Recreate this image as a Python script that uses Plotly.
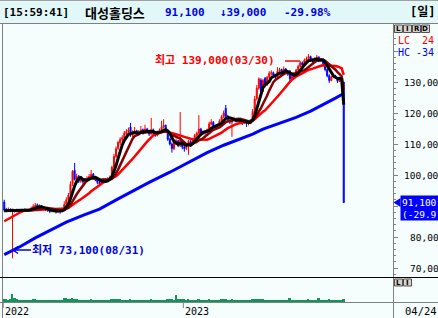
import plotly.graph_objects as go
import pandas as pd

# ---------------- data (thousand KRW) ----------------
close = [88.7, 88.5, 88.9, 88.4, 88.6, 88.4, 88.6, 88.2, 88.7, 88.5,
         88.9, 88.6, 88.8, 89.3, 89.8, 90.2, 89.6, 89.9, 89.4, 89.0,
         88.7, 88.5, 88.3, 88.6, 88.4, 88.2, 88.5, 88.3, 88.8, 90.5,
         92.0, 93.5, 97.0, 101.2, 98.6, 99.5, 98.0, 98.6, 97.8, 98.3,
         99.0, 99.5, 100.2, 99.1, 98.4, 97.6, 97.2, 98.0, 98.5, 98.2,
         98.8, 99.3, 102.5, 106.0, 108.5, 110.5, 111.5, 112.0, 113.5, 114.0,
         114.5, 112.8, 113.5, 114.2, 113.0, 113.8, 114.5, 113.6, 114.8, 113.9,
         113.2, 114.6, 113.5, 112.8, 113.6, 114.2, 115.5, 116.0, 114.0, 111.5,
         110.0, 108.5, 110.5, 111.0, 109.5, 111.2, 109.0, 108.5, 109.5, 110.8,
         110.2, 111.5, 112.8, 113.5, 114.8, 113.2, 114.0, 113.6, 114.5, 116.5,
         117.0, 115.8, 115.2, 116.0, 117.5, 118.8, 120.0, 119.0, 117.6, 117.0,
         117.8, 118.2, 117.5, 118.0, 117.2, 116.8, 117.4, 116.5, 116.8, 117.5,
         120.5, 124.5, 128.0, 131.0, 127.0, 130.5, 129.0, 131.5, 132.8, 133.0,
         132.2, 131.5, 133.5, 134.0, 133.2, 134.2, 133.0, 132.5, 131.0, 131.8,
         132.5, 133.8, 135.0, 136.2, 135.5, 137.0, 137.5, 138.2, 137.0, 136.5,
         137.5, 138.0, 136.8, 137.2, 136.0, 134.0, 132.0, 130.5, 131.5, 132.0,
         131.5, 130.2, 130.8, 130.1, 91.1]
open_ = [91.3, 88.8, 88.4, 88.9, 88.2, 88.6, 88.3, 88.7, 88.2, 88.8,
         88.4, 88.9, 88.5, 88.8, 89.3, 89.7, 90.4, 89.5, 90.0, 89.4,
         89.0, 88.8, 88.6, 88.2, 88.7, 88.5, 88.1, 88.5, 88.3, 88.9,
         90.6, 92.0, 93.6, 97.2, 101.5, 98.4, 99.6, 98.0, 98.7, 97.8,
         98.3, 99.0, 99.4, 100.3, 99.2, 98.5, 97.6, 97.2, 98.0, 98.6,
         98.2, 98.8, 99.4, 102.6, 106.0, 108.6, 110.4, 111.5, 112.0, 113.4,
         114.0, 115.5, 112.8, 113.5, 114.3, 113.0, 113.8, 114.6, 113.6, 114.8,
         113.9, 113.2, 114.6, 113.5, 112.8, 113.6, 114.2, 115.5, 116.0, 114.0,
         111.6, 110.0, 108.5, 110.4, 111.0, 109.6, 111.0, 109.0, 108.6, 109.4,
         110.8, 110.2, 111.5, 112.8, 113.5, 114.8, 113.2, 114.0, 113.6, 114.5,
         116.5, 117.0, 115.8, 115.2, 116.0, 117.5, 118.8, 121.5, 119.0, 117.6,
         117.0, 117.8, 118.2, 117.5, 118.0, 117.2, 116.8, 117.4, 116.5, 116.8,
         117.6, 120.6, 124.6, 128.0, 130.6, 127.0, 131.2, 129.0, 131.5, 132.8,
         133.0, 132.2, 131.5, 133.5, 134.0, 133.2, 134.2, 133.0, 133.5, 131.0,
         131.8, 132.5, 133.8, 135.0, 136.2, 135.5, 137.0, 137.5, 138.2, 137.0,
         136.5, 137.5, 138.0, 136.8, 137.2, 136.0, 134.0, 132.0, 130.5, 131.5,
         132.0, 131.3, 130.2, 130.8, 130.0]
high = [92.0, 89.4, 89.5, 89.2, 89.0, 89.0, 89.1, 88.9, 89.0, 89.0,
        89.3, 89.1, 89.2, 89.8, 90.6, 91.0, 90.8, 90.5, 90.3, 89.7,
        89.3, 89.1, 88.9, 89.0, 88.9, 88.8, 88.9, 88.7, 89.2, 91.5,
        92.8, 94.2, 98.0, 101.6, 103.9, 100.4, 100.0, 99.2, 99.0, 98.9,
        99.6, 100.3, 101.6, 100.6, 99.5, 98.8, 98.1, 98.5, 99.0, 98.9,
        99.3, 99.8, 103.0, 106.8, 109.2, 111.0, 112.2, 112.8, 114.2, 114.8,
        115.3, 116.8, 114.4, 115.5, 114.6, 114.5, 115.8, 115.0, 116.2, 115.2,
        114.3, 118.4, 115.0, 113.9, 114.0, 115.0, 117.5, 118.0, 116.3, 114.5,
        112.0, 110.5, 111.2, 111.8, 111.3, 120.3, 111.4, 109.8, 110.0, 111.3,
        111.2, 112.0, 113.3, 114.0, 119.3, 115.2, 114.4, 114.5, 115.0, 117.2,
        118.0, 117.4, 116.2, 116.5, 118.0, 119.4, 120.8, 122.6, 119.4, 118.0,
        118.3, 118.8, 118.5, 118.6, 118.3, 117.5, 118.0, 117.6, 117.3, 118.0,
        121.3, 125.5, 129.0, 131.5, 131.2, 131.0, 131.6, 132.0, 133.5, 133.8,
        133.4, 132.6, 134.8, 134.6, 134.3, 135.0, 134.5, 133.4, 133.9, 132.4,
        133.0, 134.2, 135.6, 136.8, 136.6, 137.6, 138.2, 139.0, 138.5, 137.4,
        138.0, 138.7, 138.3, 137.8, 137.5, 136.3, 134.4, 132.5, 132.0, 132.6,
        132.3, 131.6, 131.2, 131.0, 130.0]
low = [88.2, 88.0, 88.1, 88.0, 73.1, 87.9, 88.0, 87.8, 88.0, 88.1,
       88.2, 88.3, 88.3, 88.6, 89.0, 89.5, 89.3, 89.2, 89.0, 88.6,
       88.4, 88.2, 87.7, 88.0, 88.0, 87.6, 87.9, 87.5, 88.0, 88.7,
       90.2, 91.5, 93.2, 96.5, 98.2, 97.5, 97.4, 97.5, 97.2, 97.3,
       98.0, 98.6, 99.0, 98.8, 98.0, 97.0, 96.8, 97.0, 97.7, 97.8,
       98.0, 98.5, 99.2, 102.2, 105.5, 108.0, 109.6, 110.8, 111.6, 112.8,
       113.2, 112.3, 112.2, 113.0, 112.5, 112.6, 113.4, 113.0, 113.3, 113.5,
       112.6, 113.0, 113.0, 112.3, 112.5, 113.2, 114.0, 115.0, 113.6, 111.0,
       109.5, 107.2, 108.0, 109.8, 109.0, 109.0, 108.3, 107.5, 108.0, 106.5,
       109.6, 109.8, 111.0, 112.2, 113.0, 112.6, 112.8, 113.0, 113.2, 114.2,
       116.0, 115.3, 114.6, 114.9, 115.7, 117.0, 118.4, 118.4, 117.2, 116.5,
       112.3, 117.4, 117.0, 117.2, 116.5, 116.1, 116.5, 115.5, 116.0, 116.5,
       117.4, 120.2, 124.0, 127.5, 126.2, 126.8, 128.3, 128.8, 131.0, 132.0,
       131.6, 131.0, 131.3, 133.0, 132.6, 133.0, 132.6, 132.0, 129.7, 130.6,
       131.4, 132.2, 133.5, 134.7, 135.0, 135.2, 136.6, 137.0, 136.5, 136.0,
       136.3, 137.2, 136.4, 136.5, 135.6, 133.5, 131.5, 129.7, 130.2, 131.2,
       131.0, 129.7, 130.0, 129.8, 91.1]
# closes of the 19 sessions before the window (for moving-average warm-up)
pre_close = [80.5, 81.2, 80.8, 81.5, 81.0, 80.6, 81.3, 81.8, 82.5, 86.0,
             88.2, 88.6, 87.9, 88.4, 88.8, 88.3, 88.0, 88.5, 88.9]
volume = [20, 18, 16, 22, 55, 25, 19, 17, 15, 16,
          14, 15, 17, 16, 18, 20, 15, 14, 13, 15,
          12, 14, 13, 12, 14, 15, 13, 12, 14, 30,
          24, 21, 22, 24, 22, 18, 16, 15, 14, 13,
          15, 16, 18, 15, 14, 13, 12, 13, 14, 12,
          13, 15, 20, 22, 21, 19, 18, 16, 17, 15,
          16, 18, 14, 13, 15, 14, 13, 12, 16, 14,
          13, 18, 14, 12, 13, 14, 17, 16, 15, 18,
          20, 22, 17, 50, 22, 20, 19, 18, 16, 20,
          15, 14, 16, 15, 22, 16, 14, 13, 14, 18,
          17, 15, 14, 13, 16, 18, 20, 22, 16, 14,
          18, 14, 13, 14, 13, 12, 13, 14, 12, 13,
          19, 22, 22, 21, 20, 18, 16, 15, 14, 13,
          14, 15, 16, 14, 15, 16, 14, 13, 30, 15,
          14, 15, 16, 17, 14, 15, 16, 20, 15, 14,
          13, 14, 26, 14, 13, 16, 16, 18, 15, 14,
          13, 14, 15, 13, 18]
# long moving average (session index, value)
ma_long_idx = [0, 8, 15, 23, 30, 38, 46, 55, 63, 70, 80, 90, 98, 106,
               114, 120, 125, 133, 141, 148, 155, 160, 164]
ma_long = [74.3, 77.0, 79.7, 82.5, 84.8, 87.0, 89.0, 92.3, 95.2, 97.6,
           100.9, 104.3, 107.2, 109.6, 111.6, 113.2, 114.8, 116.6, 118.6,
           120.6, 122.9, 124.8, 126.3]
price_ticks = [130, 120, 110, 100, 80, 70]
price_tick_text = ["130,00", "120,00", "110,00", "100,00", "80,00", "70,00"]
year_labels = ["2022", "2023"]
year_idx = [0, 87]
last_date = "04/24"
high_date = "03/30"
low_date = "08/31"

# ---------------- geometry helpers (pixel -> paper) ----------------
W, H = 438, 318
L, R, T, B = 3, 393, 24, 302
VOL_TOP = 277


def px(x):
    return (x - L) / (R - L)


def py(y):
    return (B - y) / (B - T)


MONO = "DejaVu Sans Mono, Noto Sans CJK KR, monospace"
KR = "Noto Sans CJK KR, DejaVu Sans, sans-serif"
HEAD_BG = "#e2f8f8"
BODY_BG = "#f5fdfd"
GRAY = "#808080"
BLUE = "#0000ff"
RED = "#ff0000"

n = len(close)
idx = list(range(n))
s = pd.Series(pre_close + close)
ma5 = s.rolling(5).mean().iloc[-n:].tolist()
ma10 = s.rolling(10).mean().iloc[-n:].tolist()
ma20 = s.rolling(20).mean().iloc[-n:].tolist()

vol_colors = ["#13955a"] * n

fig = go.Figure()
fig.add_trace(go.Candlestick(
    x=idx, open=open_, high=high, low=low, close=close,
    increasing=dict(line=dict(color=RED, width=1), fillcolor=RED),
    decreasing=dict(line=dict(color=BLUE, width=1), fillcolor=BLUE),
    whiskerwidth=0, showlegend=False, hoverinfo="skip"))
fig.add_trace(go.Scatter(x=ma_long_idx, y=ma_long, mode="lines",
                         line=dict(color=BLUE, width=3), hoverinfo="skip", showlegend=False))
fig.add_trace(go.Scatter(x=idx, y=ma20, mode="lines",
                         line=dict(color=RED, width=2.5), hoverinfo="skip", showlegend=False))
fig.add_trace(go.Scatter(x=idx, y=ma10, mode="lines",
                         line=dict(color="#8b0000", width=2.5), hoverinfo="skip", showlegend=False))
fig.add_trace(go.Scatter(x=idx, y=ma5, mode="lines",
                         line=dict(color="#000000", width=3), hoverinfo="skip", showlegend=False))
fig.add_trace(go.Bar(x=idx, y=volume, marker=dict(color=vol_colors, line=dict(width=0)),
                     yaxis="y2", width=0.9, hoverinfo="skip", showlegend=False))

vol_frac = (B - VOL_TOP) / (B - T)
p_lo = 70 + (268 - VOL_TOP) / 3.1
p_hi = 70 + (268 - T) / 3.1

shapes = []


def line(x0, y0, x1, y1, color, width=1):
    shapes.append(dict(type="line", xref="paper", yref="paper",
                       x0=px(x0), y0=py(y0), x1=px(x1), y1=py(y1),
                       line=dict(color=color, width=width)))


def rect(x0, y0, x1, y1, fill, lc=None, lw=0):
    shapes.append(dict(type="rect", xref="paper", yref="paper",
                       x0=px(x0), y0=py(y0), x1=px(x1), y1=py(y1),
                       fillcolor=fill, line=dict(color=lc or fill, width=lw)))


# header
rect(0, 0, 438, 23.5, HEAD_BG)
line(0, 0.5, 438, 0.5, "#a0a0a0")
line(0, 23.5, 438, 23.5, GRAY)
# frame
line(2.5, 23.5, 2.5, 318, GRAY)
line(393.5, 23.5, 393.5, 318, GRAY)
line(0, 277.5, 438, 277.5, "#000000")
line(0, 302.5, 438, 302.5, GRAY)
# year ticks
for yi in year_idx:
    shapes.append(dict(type="line", xref="x", yref="paper", x0=yi - 0.5, x1=yi - 0.5,
                       y0=py(303), y1=py(308), line=dict(color=GRAY, width=1)))

annotations = []


def text(x, y, t, color="#000000", size=10, family=MONO, xanchor="left", yref="paper"):
    annotations.append(dict(xref="paper", yref=yref, x=px(x),
                            y=py(y) if yref == "paper" else y,
                            text=t, showarrow=False, xanchor=xanchor, yanchor="middle",
                            font=dict(color=color, size=size, family=family),
                            borderpad=0))


# header texts
pct = (close[-1] - close[-2]) / close[-2] * 100
text(2, 12, "<b>[15:59:41]</b>", size=11)
text(84, 12, "<b>대성홀딩스</b>", size=13, family=KR)
text(164, 12, f"<b>{close[-1]*1000:,.0f}</b>", color="#0000e0", size=11)
text(219, 12, f"<b>↓{(close[-2]-close[-1])*1000:,.0f}</b>", color="#0000e0", size=11)
text(283, 12, f"<b>{pct:.2f}%</b>", color="#0000e0", size=11)
text(437, 12, "<b>[일]</b>", size=12, xanchor="right")

# LIRD buttons
for k, ch in enumerate("LIRD"):
    rect(394.5 + 9 * k, 25, 402.5 + 9 * k, 32.5, "#d6d2ca", "#505050", 1)
    text(398.5 + 9 * k, 28.8, f"<b>{ch}</b>", size=7, family="DejaVu Sans, sans-serif",
         xanchor="center")
for k, ch in enumerate("LI"):
    rect(394.5 + 9 * k, 279, 402.5 + 9 * k, 286, "#d6d2ca", "#505050", 1)
    text(398.5 + 9 * k, 282.6, f"<b>{ch}</b>", size=7, family="DejaVu Sans, sans-serif",
         xanchor="center")

text(397, 41, "LC  24", color=RED, size=10)
text(397, 52, "HC -34", color=BLUE, size=10)

# price labels (data y)
for pv, pt in zip(price_ticks, price_tick_text):
    text(403 if len(pt) == 6 else 409, pv, pt, size=9.5, yref="y")

# current price marker
last_y = 268 - (close[-1] - 70) * 3.1
rect(400.5, last_y - 7, 438, last_y + 18, BLUE)
shapes.append(dict(type="path", xref="paper", yref="paper",
                   path=f"M {px(393.5)} {py(last_y)} L {px(400.5)} {py(last_y - 4.5)} L {px(400.5)} {py(last_y + 4.5)} Z",
                   fillcolor=BLUE, line=dict(color=BLUE, width=0)))
text(401.5, last_y, f"{close[-1]*1000:,.0f}", color="#ffffff", size=9.5)
text(400.5, last_y + 11.5, f"({pct:.2f}%)"[:6], color="#ffffff", size=9.5)

# high / low labels
text(154, 60, f"<b>최고 {max(high)*1000:,.0f}({high_date})</b>", color=RED, size=11)
line(285, 61, 300, 61, RED, 1.5)
text(31, 250, f"<b>최저 {min(low)*1000:,.0f}({low_date})</b>", color="#0000e0", size=11)
line(13, 250, 31, 250, "#0000e0", 1.5)
line(13, 250, 18, 246.5, "#0000e0", 1.5)
line(13, 250, 18, 253.5, "#0000e0", 1.5)

# x labels
text(4, 311, year_labels[0], size=10)
annotations.append(dict(xref="x", yref="paper", x=year_idx[1] - 0.3, y=py(311), text=year_labels[1],
                        showarrow=False, xanchor="left", yanchor="middle", borderpad=0,
                        font=dict(color="#000000", size=10, family=MONO)))
text(404, 311, last_date, size=10.5)

fig.update_layout(
    width=W, height=H, autosize=False,
    margin=dict(l=L, r=W - R, t=T, b=H - B, pad=0),
    paper_bgcolor=BODY_BG, plot_bgcolor=BODY_BG,
    showlegend=False, hovermode=False, bargap=0,
    xaxis=dict(range=[-0.6, 187.8], visible=False, rangeslider=dict(visible=False),
               fixedrange=True),
    yaxis=dict(domain=[vol_frac, 1], range=[p_lo, p_hi], side="right", showgrid=False,
               zeroline=False, showline=False, showticklabels=False,
               ticks="outside", ticklen=4, tickcolor=GRAY, tick0=0, dtick=10,
               minor=dict(ticks="outside", ticklen=2, tickcolor=GRAY, dtick=2, showgrid=False)),
    yaxis2=dict(domain=[0, vol_frac], range=[0, 170], visible=False),
    shapes=shapes, annotations=annotations,
)
fig.write_html("out.html")
